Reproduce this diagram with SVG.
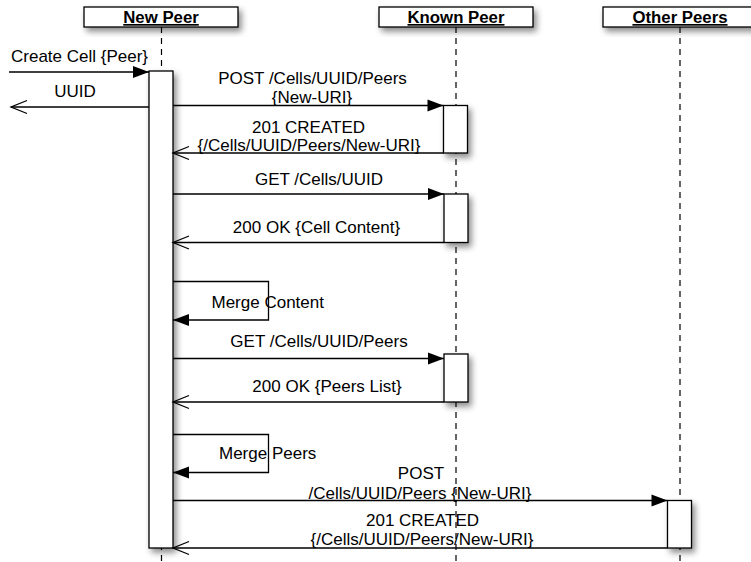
<svg xmlns="http://www.w3.org/2000/svg" width="751" height="562" viewBox="0 0 751 562">
<style>
.hdr{fill:#fff;stroke:#000;stroke-width:1.3;filter:url(#sh)}
.act{fill:#fff;stroke:#000;stroke-width:1.3;filter:url(#sh)}
.life{stroke:#000;stroke-width:1.2;stroke-dasharray:6 5;fill:none}
.ht{font-family:"Liberation Sans",Arial,sans-serif;font-size:16.8px;font-weight:bold;text-decoration:underline;text-anchor:middle;fill:#000}
.lbl{font-family:"Liberation Sans",Arial,sans-serif;font-size:17px;fill:#000}
.c{text-anchor:middle}
.req{stroke:#000;stroke-width:1.3;fill:none;marker-end:url(#fa)}
.rep{stroke:#000;stroke-width:1.3;fill:none;marker-end:url(#oa)}
</style>
<defs>
<filter id="sh" x="-50%" y="-50%" width="200%" height="200%">
<feDropShadow dx="3" dy="4" stdDeviation="3" flood-color="#000" flood-opacity="0.45"/>
</filter>
<marker id="fa" markerUnits="userSpaceOnUse" markerWidth="17" markerHeight="13" refX="16" refY="6" orient="auto" overflow="visible">
<path d="M0,0 L16,6 L0,12 z" fill="#000"/>
</marker>
<marker id="oa" markerUnits="userSpaceOnUse" markerWidth="17" markerHeight="14" refX="16" refY="6.5" orient="auto" overflow="visible">
<path d="M0,0 L16,6.5 L0,13" fill="none" stroke="#000" stroke-width="1.3"/>
</marker>
</defs>
<rect width="751" height="562" fill="#fff"/>

<g id="lifelines">
<line class="life" x1="161.5" y1="27" x2="161.5" y2="562"/>
<line class="life" x1="456" y1="27" x2="456" y2="562"/>
<line class="life" x1="680" y1="27" x2="680" y2="562"/>
</g>

<g id="new-peer">
<rect class="hdr" x="84" y="7" width="154" height="20"/>
<text class="ht" x="161" y="23">New Peer</text>
<rect class="act" x="149" y="71" width="24" height="477"/>
</g>

<g id="known-peer">
<rect class="hdr" x="379" y="7" width="154" height="20"/>
<text class="ht" x="456" y="23">Known Peer</text>
<rect class="act" x="443.5" y="105.5" width="24" height="47.5"/>
<rect class="act" x="444" y="194" width="24" height="48.5"/>
<rect class="act" x="444" y="354" width="24" height="48"/>
</g>

<g id="other-peers">
<rect class="hdr" x="603" y="7" width="154" height="20"/>
<text class="ht" x="680" y="23">Other Peers</text>
<rect class="act" x="667.5" y="500.5" width="24" height="47.5"/>
</g>

<g id="connectors">
<line class="req" x1="9" y1="72" x2="149" y2="72"/>
<line class="rep" x1="149" y1="107" x2="11" y2="107"/>
<line class="req" x1="173" y1="105.5" x2="443.5" y2="105.5"/>
<line class="rep" x1="443.5" y1="153" x2="173" y2="153"/>
<line class="req" x1="173" y1="194" x2="444" y2="194"/>
<line class="rep" x1="444" y1="242.5" x2="173" y2="242.5"/>
<polyline class="req" points="173,281.5 268.5,281.5 268.5,320 173,320"/>
<line class="req" x1="173" y1="358.5" x2="444" y2="358.5"/>
<line class="rep" x1="444" y1="402" x2="173" y2="402"/>
<polyline class="req" points="173,434.5 268.5,434.5 268.5,472.5 173,472.5"/>
<line class="req" x1="173" y1="500.5" x2="667.5" y2="500.5"/>
<line class="rep" x1="667.5" y1="548" x2="173" y2="548"/>
</g>

<g id="labels">
<text class="lbl" x="11" y="62">Create Cell {Peer}</text>
<text class="lbl c" x="75" y="97">UUID</text>
<text class="lbl c"><tspan x="312.5" y="84.2">POST /Cells/UUID/Peers</tspan><tspan x="312" y="102.6">{New-URI}</tspan></text>
<text class="lbl c"><tspan x="308.5" y="133">201 CREATED</tspan><tspan x="309" y="151">{/Cells/UUID/Peers/New-URI}</tspan></text>
<text class="lbl c" x="319" y="185">GET /Cells/UUID</text>
<text class="lbl c" x="316.5" y="233">200 OK {Cell Content}</text>
<text class="lbl" x="211.5" y="308">Merge Content</text>
<text class="lbl c" x="319" y="347">GET /Cells/UUID/Peers</text>
<text class="lbl c" x="327" y="392">200 OK {Peers List}</text>
<text class="lbl" x="219" y="459">Merge Peers</text>
<text class="lbl c"><tspan x="421" y="479">POST</tspan><tspan x="420" y="499">/Cells/UUID/Peers {New-URI}</tspan></text>
<text class="lbl c"><tspan x="422.5" y="526.2">201 CREATED</tspan><tspan x="422" y="544.6">{/Cells/UUID/Peers/New-URI}</tspan></text>
</g>
</svg>
